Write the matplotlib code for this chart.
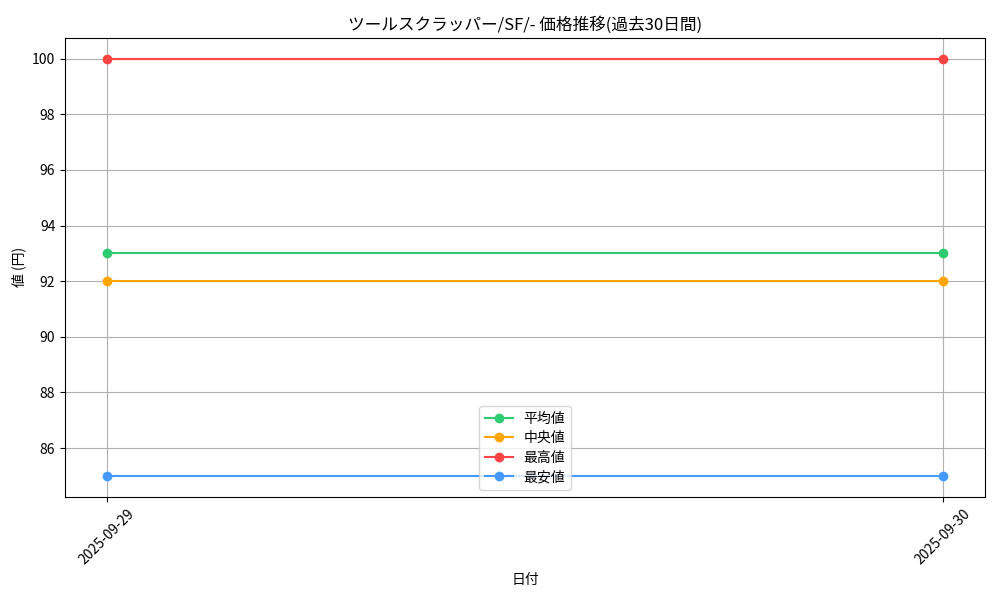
import matplotlib
matplotlib.use('Agg')
import matplotlib.pyplot as plt

plt.rcParams['font.family'] = ['Noto Sans CJK JP', 'DejaVu Sans']

# 日付と各系列の値
dates = ['2025-09-29', '2025-09-30']
avg_prices = [93, 93]
median_prices = [92, 92]
max_prices = [100, 100]
min_prices = [85, 85]

series = [
    ('平均値', avg_prices, '#2ecc71'),
    ('中央値', median_prices, '#ffa500'),
    ('最高値', max_prices, '#ff4444'),
    ('最安値', min_prices, '#4499ff'),
]

fig, ax = plt.subplots(figsize=(10, 6), dpi=100)

for label, values, color in series:
    ax.plot(dates, values, marker='o', color=color, label=label)

ax.set_title('ツールスクラッパー/SF/- 価格推移(過去30日間)', fontsize=12)
ax.set_xlabel('日付')
ax.set_ylabel('値 (円)')
ax.grid(True)
ax.legend(loc='lower center', labelspacing=0.4)
plt.xticks(rotation=45)

# 余白を元の図に合わせる
plt.subplots_adjust(left=0.065, right=0.985, top=0.937, bottom=0.172)
plt.savefig('out.png')
